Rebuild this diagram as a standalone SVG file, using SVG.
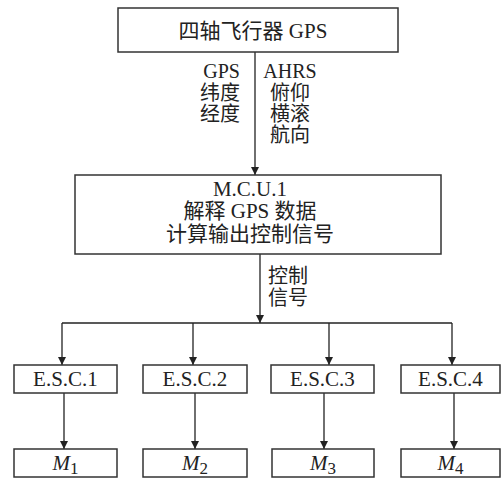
<svg xmlns="http://www.w3.org/2000/svg" width="502" height="479" viewBox="0 0 502 479">
<style>
.box{fill:#fff;stroke:#333;stroke-width:1.5}
.t{font-family:"Liberation Serif","Noto Sans CJK SC",serif;font-size:20px;fill:#222}
.b{font-size:21px}
.c{text-anchor:middle}
.ln{fill:none;stroke:#222;stroke-width:1.3}
</style>
<defs>
<marker id="ah" viewBox="0 0 8 10" refX="8" refY="5" markerWidth="8" markerHeight="10" markerUnits="userSpaceOnUse" orient="auto">
<path d="M0,1 L8,5 L0,9 z" fill="#222"/>
</marker>
</defs>
<rect width="502" height="479" fill="#fff"/>
<g id="connectors">
<line class="ln" x1="255" y1="52" x2="255" y2="175" marker-end="url(#ah)"/>
<line class="ln" x1="260" y1="254" x2="260" y2="323" marker-end="url(#ah)"/>
<line class="ln" x1="62" y1="323" x2="452" y2="323"/>
<line class="ln" x1="62" y1="323" x2="62" y2="365" marker-end="url(#ah)"/>
<line class="ln" x1="193" y1="323" x2="193" y2="365" marker-end="url(#ah)"/>
<line class="ln" x1="329" y1="323" x2="329" y2="365" marker-end="url(#ah)"/>
<line class="ln" x1="452" y1="323" x2="452" y2="365" marker-end="url(#ah)"/>
<line class="ln" x1="64" y1="393" x2="64" y2="449" marker-end="url(#ah)"/>
<line class="ln" x1="195" y1="393" x2="195" y2="449" marker-end="url(#ah)"/>
<line class="ln" x1="324" y1="393" x2="324" y2="449" marker-end="url(#ah)"/>
<line class="ln" x1="454" y1="393" x2="454" y2="449" marker-end="url(#ah)"/>
<text class="t" x="240" y="78" text-anchor="end">GPS</text>
<text class="t" x="240" y="100" text-anchor="end">纬度</text>
<text class="t" x="240" y="121" text-anchor="end">经度</text>
<text class="t c" x="290" y="78">AHRS</text>
<text class="t c" x="290" y="100">俯仰</text>
<text class="t c" x="290" y="121">横滚</text>
<text class="t c" x="290" y="142">航向</text>
<text class="t" x="268" y="283">控制</text>
<text class="t" x="268" y="305">信号</text>
</g>
<g id="gps">
<rect class="box" x="118" y="8" width="280" height="44"/>
<text class="t b c" x="253" y="38">四轴飞行器 GPS</text>
</g>
<g id="mcu">
<rect class="box" x="75" y="175" width="366" height="79"/>
<text class="t b c" x="250" y="196">M.C.U.1</text>
<text class="t b c" x="250" y="218">解释 GPS 数据</text>
<text class="t b c" x="250" y="241">计算输出控制信号</text>
</g>
<g id="esc1"><rect class="box" x="14" y="365" width="103" height="28"/><text class="t b c" x="65.5" y="386">E.S.C.1</text></g>
<g id="esc2"><rect class="box" x="143" y="365" width="104" height="28"/><text class="t b c" x="195" y="386">E.S.C.2</text></g>
<g id="esc3"><rect class="box" x="271" y="365" width="103" height="28"/><text class="t b c" x="322.5" y="386">E.S.C.3</text></g>
<g id="esc4"><rect class="box" x="401" y="365" width="99" height="28"/><text class="t b c" x="450.5" y="386">E.S.C.4</text></g>
<g id="m1"><rect class="box" x="14" y="449" width="103" height="28"/><text class="t b c" x="65.5" y="470"><tspan font-style="italic">M</tspan><tspan font-size="17" dy="4">1</tspan></text></g>
<g id="m2"><rect class="box" x="143" y="449" width="104" height="28"/><text class="t b c" x="195" y="470"><tspan font-style="italic">M</tspan><tspan font-size="17" dy="4">2</tspan></text></g>
<g id="m3"><rect class="box" x="272" y="449" width="102" height="28"/><text class="t b c" x="323" y="470"><tspan font-style="italic">M</tspan><tspan font-size="17" dy="4">3</tspan></text></g>
<g id="m4"><rect class="box" x="401" y="449" width="99" height="28"/><text class="t b c" x="450.5" y="470"><tspan font-style="italic">M</tspan><tspan font-size="17" dy="4">4</tspan></text></g>
</svg>
